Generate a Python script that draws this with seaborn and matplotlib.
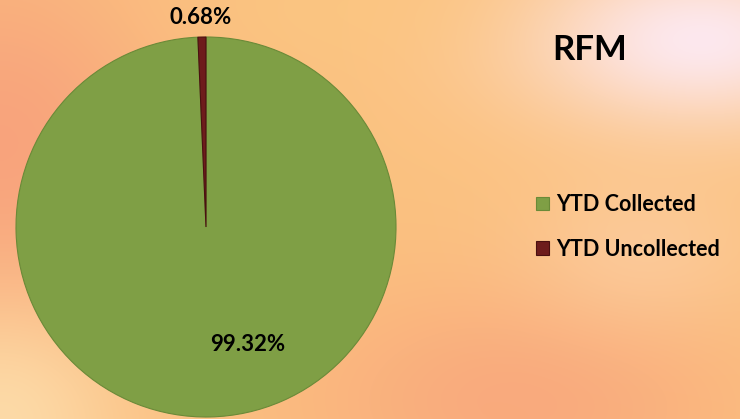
import numpy as np
import matplotlib
matplotlib.use("Agg")
import matplotlib.pyplot as plt
import matplotlib.colors as mcolors
import seaborn as sns

# data
labels = ["YTD Collected", "YTD Uncollected"]
values = [99.32, 0.68]
pct_text = ["99.32%", "0.68%"]
colors = ["#7F9F45", "#6E1C1C"]

sns.set_theme(style="white")
plt.rcParams["font.family"] = ["Lato", "DejaVu Sans"]

fig = plt.figure(figsize=(7.4, 4.19), dpi=100)

# background gradient (peach / salmon / light pink)
W, H = 740, 419
yy, xx = np.mgrid[0:H, 0:W]
base = np.array(mcolors.to_rgb("#FBC280"))
img = np.ones((H, W, 3)) * base

def blob(cx, cy, sx, sy, color, strength=1.0):
    global img
    w = strength * np.exp(-(((xx - cx) / sx) ** 2 + ((yy - cy) / sy) ** 2))
    c = np.array(mcolors.to_rgb(color))
    img = img * (1 - w[..., None]) + c * w[..., None]

blob(0, 150, 180, 200, "#F8A07C", 0.9)
blob(520, 400, 220, 120, "#F9A47C", 0.8)
blob(700, 40, 180, 90, "#FDE8EE", 1.0)
blob(640, 250, 120, 80, "#FCD3AE", 0.5)
blob(0, 419, 130, 120, "#FDDDAB", 0.9)
blob(330, 10, 160, 60, "#FBC882", 0.5)

bg = fig.add_axes([0, 0, 1, 1])
bg.imshow(np.clip(img, 0, 1), aspect="auto", extent=[0, 1, 0, 1])
bg.axis("off")

# pie
ax = fig.add_axes([16 / W, 2 / H, 380 / W, 380 / H])
wedges, _ = ax.pie(
    values,
    colors=colors,
    startangle=90,
    counterclock=False,
    wedgeprops=dict(edgecolor="#6A8A38", linewidth=0.8),
)
wedges[1].set_edgecolor("#4A1010")
ax.set_xlim(-1.0, 1.0)
ax.set_ylim(-1.0, 1.0)

# data labels
ax.text(0.22, -0.62, pct_text[0], ha="center", va="center",
        fontsize=16, fontweight="bold", color="black")
ax.text(-0.03, 1.10, pct_text[1], ha="center", va="center",
        fontsize=16, fontweight="bold", color="black")

# title
fig.text(590 / W, 1 - 50 / H, "RFM", ha="center", va="center",
         fontsize=25, fontweight="bold", color="black")

# legend
leg = fig.legend(wedges, labels, loc="center left",
                 bbox_to_anchor=(517 / W, 1 - 227 / H),
                 frameon=False, handlelength=0.6, handleheight=0.6,
                 handletextpad=0.3, labelspacing=1.1,
                 prop=dict(weight="bold", size=15.5))
for t in leg.get_texts():
    t.set_color("black")

fig.savefig("out.png", dpi=100)
